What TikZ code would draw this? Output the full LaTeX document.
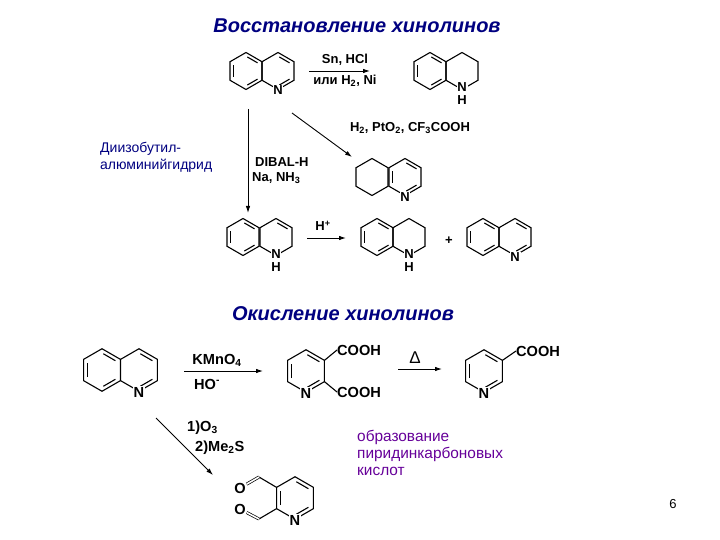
\documentclass[tikz,border=0pt]{standalone}
\usepackage{fontspec}
\setmainfont{Liberation Sans}
\usepackage{xcolor}
\usetikzlibrary{arrows,arrows.meta,positioning,calc}
\definecolor{titleblue}{RGB}{0,0,128}
\definecolor{notepurple}{RGB}{102,0,153}
\tikzset{
  bond/.style={line width=1.1pt},
  arrowline/.style={-{Latex[length=7pt,width=4.5pt]}, line width=0.9pt},
  chem/.style={font=\bfseries\fontsize{13}{11}\selectfont, inner sep=0pt},
  chembig/.style={font=\bfseries\fontsize{14.6}{12}\selectfont, inner sep=0pt},
  atom/.style={chem, fill=white, inner sep=0.8pt},
  atombig/.style={chembig, fill=white, inner sep=0.8pt},
  amine/.style={atom, align=center, anchor=north, font=\bfseries\fontsize{13}{13}\selectfont},
  heading/.style={font=\bfseries\itshape\fontsize{20}{20}\selectfont, text=titleblue, inner sep=0pt},
  note/.style={align=left, anchor=north west, inner sep=0pt},
  satring/.pic={
    \draw[bond] (-90:18.5) -- (-30:18.5) -- (30:18.5) -- (90:18.5) -- (150:18.5) -- (210:18.5) -- cycle;
  },
  hexring/.pic={
    \draw[bond] (-90:18.5) -- (-30:18.5) -- (30:18.5) -- (90:18.5) -- (150:18.5) -- (210:18.5) -- cycle;
    \foreach \k in {#1} {
      \draw[bond, shorten >=1.5pt, shorten <=1.5pt] ({\k-30}:14.8) -- ({\k+30}:14.8);
    }
  },
}
\begin{document}
\begin{tikzpicture}[x=1pt, y=-1pt]
    \useasboundingbox (0,0) rectangle (720,540);

    \node [heading] (title1) at (357,26) {Восстановление хинолинов};
    \node [heading] (title2) at (343,314) {Окисление хинолинов};

    % top row
    \pic at (246,71) {hexring={180,-60,60}};
    \pic at (278,71) {hexring={-60,60}};
    \node [atom] (n1) at (278,90) {N};
    \coordinate (a1s) at (309,71);
    \coordinate (a1e) at (370,71);
    \draw [arrowline] (a1s) -- (a1e);
    \node [chem] (sn) at (345,60) {Sn, HCl};
    \node [chem] (ili) at (345,81) {или H\textsubscript{2}, Ni};
    \pic at (430,71) {hexring={180,-60,60}};
    \pic at (462,71) {satring};
    \node [amine] (n2) at (462,82) {N\\H};

    % middle
    \coordinate (a2s) at (292,113);
    \coordinate (a2e) at (352,157);
    \draw [arrowline] (a2s) -- (a2e);
    \node [chem] (pto) at (410,128) {H\textsubscript{2}, PtO\textsubscript{2}, CF\textsubscript{3}COOH};
    \pic at (372,177) {satring};
    \pic at (405,177) {hexring={180,-60,60}};
    \node [atom] (n3) at (405,197) {N};

    \coordinate (a3s) at (248,109);
    \coordinate (a3e) at (248,213);
    \draw [arrowline] (a3s) -- (a3e);
    \node [chem, anchor=west] (dibal) at (255,162) {DIBAL-H};
    \node [chem, anchor=west] (na) at (252,178) {Na, NH\textsubscript{3}};
    \node [note, text=titleblue, font=\fontsize{14}{17}\selectfont] (dibalname) at (100,142) {Диизобутил-\\алюминийгидрид};

    % bottom row of the first scheme
    \pic at (243,237) {hexring={180,-60,60}};
    \pic at (276,237) {hexring={-60}};
    \node [amine] (n4) at (276,249) {N\\H};
    \coordinate (a4s) at (307,238);
    \coordinate (a4e) at (346,238);
    \draw [arrowline] (a4s) -- (a4e);
    \node [chem] (hplus) at (323,226) {H\textsuperscript{+}};
    \pic at (377,237) {hexring={180,-60,60}};
    \pic at (409,237) {satring};
    \node [amine] (n5) at (409,249) {N\\H};
    \node [chem] (plus) at (449,241) {+};
    \pic at (483,237) {hexring={180,-60,60}};
    \pic at (515,237) {hexring={-60,60}};
    \node [atom] (n6) at (515,257) {N};

    % oxidation
    \pic [scale=1.15] at (102,370) {hexring={180,-60,60}};
    \pic [scale=1.15] at (139,370) {hexring={-60,60}};
    \node [atombig] (n7) at (139,392) {N};
    \coordinate (a5s) at (184,371);
    \coordinate (a5e) at (263,371);
    \draw [arrowline] (a5s) -- (a5e);
    \node [chembig] (kmno) at (217,360) {KMnO\textsubscript{4}};
    \node [chembig] (ho) at (207,384) {HO\textsuperscript{-}};

    \pic [scale=1.15] at (306,371) {hexring={180,-60,60}};
    \node [atombig] (n8) at (306,393) {N};
    \node [chembig, anchor=west] (cooh1) at (337,350) {COOH};
    \node [chembig, anchor=west] (cooh2) at (337,392) {COOH};
    \draw [bond] (324.4,360.4) -- (cooh1.west);
    \draw [bond] (324.4,381.6) -- (cooh2.west);

    \coordinate (a6s) at (398,369);
    \coordinate (a6e) at (442,369);
    \draw [arrowline] (a6s) -- (a6e);
    \node [chem, font=\fontsize{17}{17}\selectfont] (delta) at (415,358) {Δ};

    \pic [scale=1.15] at (484,371) {hexring={180,-60,60}};
    \node [atombig] (n9) at (484,393) {N};
    \node [chembig, anchor=west] (cooh3) at (516,351) {COOH};
    \draw [bond] (502.4,360.4) -- (cooh3.west);

    \coordinate (a7s) at (156,418);
    \coordinate (a7e) at (213,475);
    \draw [arrowline] (a7s) -- (a7e);
    \node [chembig, anchor=west] (ozone) at (187,428) {1)O\textsubscript{3}};
    \node [chembig, anchor=west] (mes) at (195,448) {2)Me\textsubscript{2}S};

    \pic [scale=1.15] at (295,498) {hexring={180,-60,60}};
    \node [atombig] (n10) at (295,520) {N};
    \coordinate (cho1) at (259,477);
    \coordinate (cho2) at (259,519);
    \node [atombig] (o1) at (240,488) {O};
    \node [atombig] (o2) at (240,509) {O};
    \draw [bond] (276.6,487.4) -- (cho1);
    \draw [bond] (276.6,508.6) -- (cho2);
    \draw [line width=0.7pt, double, double distance=1.6pt] (cho1) -- (o1);
    \draw [line width=0.7pt, double, double distance=1.6pt] (cho2) -- (o2);

    \node [note, text=notepurple, font=\fontsize{15.4}{17}\selectfont] (acids) at (357,430) {образование\\пиридинкарбоновых\\кислот};
    \node [font=\fontsize{13}{13}\selectfont, inner sep=0pt] (page) at (673,504) {6};
\end{tikzpicture}
\end{document}
